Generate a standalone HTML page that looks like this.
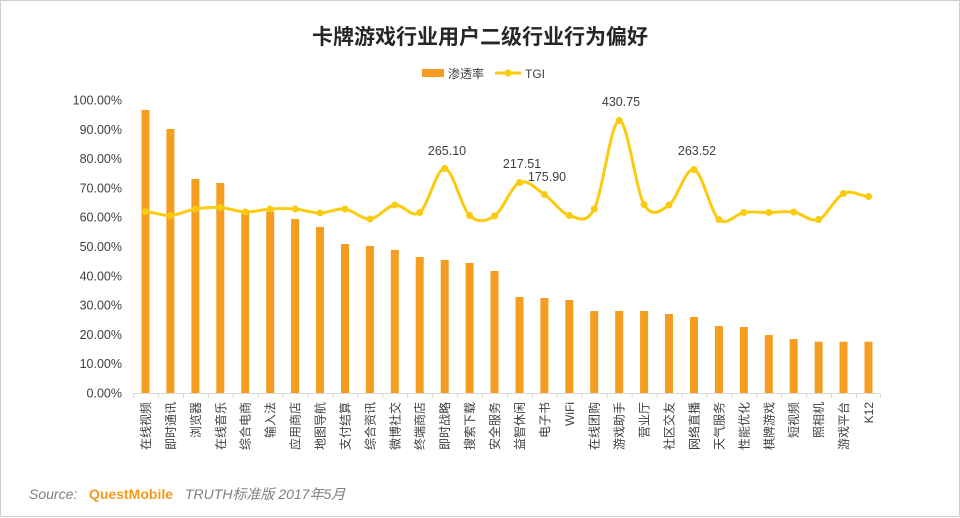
<!DOCTYPE html>
<html>
<head>
<meta charset="utf-8">
<style>
  html, body { margin:0; padding:0; background:#fff; }
  body { width:960px; height:518px; overflow:hidden; }
  svg { display:block; }
  .t { font-family:"Liberation Sans","Noto Sans CJK SC",sans-serif; }
</style>
</head>
<body>
<svg width="960" height="518" viewBox="0 0 960 518" xmlns="http://www.w3.org/2000/svg">
  <rect x="0" y="0" width="960" height="518" fill="#fff"/>
  <rect x="0.5" y="0.5" width="959" height="516" fill="none" stroke="#cfcfcf" stroke-width="1"/>

  <!-- Title -->
  <text class="t" x="480" y="44" text-anchor="middle" font-size="21" font-weight="bold" fill="#262626">卡牌游戏行业用户二级行业行为偏好</text>

  <!-- Legend -->
  <rect x="422" y="69" width="22" height="8" fill="#F59D20"/>
  <text class="t" x="448" y="78" font-size="12" fill="#404040">渗透率</text>
  <line x1="495" y1="73" x2="521" y2="73" stroke="#FACB0F" stroke-width="3"/>
  <circle cx="508" cy="73" r="3.5" fill="#FACB0F"/>
  <text class="t" x="525" y="78" font-size="12" fill="#404040">TGI</text>

  <!-- Y axis labels -->
  <g class="t" font-size="12.5" fill="#404040" text-anchor="end">
    <text x="122" y="397.5">0.00%</text>
    <text x="122" y="368.2">10.00%</text>
    <text x="122" y="338.9">20.00%</text>
    <text x="122" y="309.6">30.00%</text>
    <text x="122" y="280.3">40.00%</text>
    <text x="122" y="251">50.00%</text>
    <text x="122" y="221.7">60.00%</text>
    <text x="122" y="192.4">70.00%</text>
    <text x="122" y="163.1">80.00%</text>
    <text x="122" y="133.8">90.00%</text>
    <text x="122" y="104.5">100.00%</text>
  </g>

  <!-- Bars -->
  <g fill="#F59D20">
    <rect x="141.5" y="110" width="8" height="283.5"/>
    <rect x="166.4" y="129" width="8" height="264.5"/>
    <rect x="191.4" y="179" width="8" height="214.5"/>
    <rect x="216.3" y="183" width="8" height="210.5"/>
    <rect x="241.2" y="210" width="8" height="183.5"/>
    <rect x="266.2" y="211.5" width="8" height="182"/>
    <rect x="291.1" y="219" width="8" height="174.5"/>
    <rect x="316" y="227" width="8" height="166.5"/>
    <rect x="341" y="244" width="8" height="149.5"/>
    <rect x="365.9" y="246" width="8" height="147.5"/>
    <rect x="390.8" y="250" width="8" height="143.5"/>
    <rect x="415.7" y="257" width="8" height="136.5"/>
    <rect x="440.7" y="260" width="8" height="133.5"/>
    <rect x="465.6" y="263" width="8" height="130.5"/>
    <rect x="490.5" y="271" width="8" height="122.5"/>
    <rect x="515.5" y="297" width="8" height="96.5"/>
    <rect x="540.4" y="298" width="8" height="95.5"/>
    <rect x="565.3" y="300" width="8" height="93.5"/>
    <rect x="590.2" y="311" width="8" height="82.5"/>
    <rect x="615.2" y="311" width="8" height="82.5"/>
    <rect x="640.1" y="311" width="8" height="82.5"/>
    <rect x="665" y="314" width="8" height="79.5"/>
    <rect x="690" y="317" width="8" height="76.5"/>
    <rect x="714.9" y="326" width="8" height="67.5"/>
    <rect x="739.8" y="327" width="8" height="66.5"/>
    <rect x="764.8" y="335" width="8" height="58.5"/>
    <rect x="789.7" y="339" width="8" height="54.5"/>
    <rect x="814.6" y="341.7" width="8" height="51.8"/>
    <rect x="839.5" y="341.7" width="8" height="51.8"/>
    <rect x="864.5" y="341.7" width="8" height="51.8"/>
  </g>

  <!-- X axis -->
  <line x1="133" y1="393.5" x2="881" y2="393.5" stroke="#d9d9d9" stroke-width="1"/>
  <g stroke="#d9d9d9" stroke-width="1">
    <line x1="133.5" y1="393.5" x2="133.5" y2="398"/>
    <line x1="158.4" y1="393.5" x2="158.4" y2="398"/>
    <line x1="183.4" y1="393.5" x2="183.4" y2="398"/>
    <line x1="208.3" y1="393.5" x2="208.3" y2="398"/>
    <line x1="233.2" y1="393.5" x2="233.2" y2="398"/>
    <line x1="258.2" y1="393.5" x2="258.2" y2="398"/>
    <line x1="283.1" y1="393.5" x2="283.1" y2="398"/>
    <line x1="308" y1="393.5" x2="308" y2="398"/>
    <line x1="333" y1="393.5" x2="333" y2="398"/>
    <line x1="357.9" y1="393.5" x2="357.9" y2="398"/>
    <line x1="382.8" y1="393.5" x2="382.8" y2="398"/>
    <line x1="407.7" y1="393.5" x2="407.7" y2="398"/>
    <line x1="432.7" y1="393.5" x2="432.7" y2="398"/>
    <line x1="457.6" y1="393.5" x2="457.6" y2="398"/>
    <line x1="482.5" y1="393.5" x2="482.5" y2="398"/>
    <line x1="507.5" y1="393.5" x2="507.5" y2="398"/>
    <line x1="532.4" y1="393.5" x2="532.4" y2="398"/>
    <line x1="557.3" y1="393.5" x2="557.3" y2="398"/>
    <line x1="582.2" y1="393.5" x2="582.2" y2="398"/>
    <line x1="607.2" y1="393.5" x2="607.2" y2="398"/>
    <line x1="632.1" y1="393.5" x2="632.1" y2="398"/>
    <line x1="657" y1="393.5" x2="657" y2="398"/>
    <line x1="682" y1="393.5" x2="682" y2="398"/>
    <line x1="706.9" y1="393.5" x2="706.9" y2="398"/>
    <line x1="731.8" y1="393.5" x2="731.8" y2="398"/>
    <line x1="756.8" y1="393.5" x2="756.8" y2="398"/>
    <line x1="781.7" y1="393.5" x2="781.7" y2="398"/>
    <line x1="806.6" y1="393.5" x2="806.6" y2="398"/>
    <line x1="831.5" y1="393.5" x2="831.5" y2="398"/>
    <line x1="856.5" y1="393.5" x2="856.5" y2="398"/>
    <line x1="880.5" y1="393.5" x2="880.5" y2="398"/>
  </g>

  <!-- X labels (rotated) -->
  <g class="t" font-size="12" fill="#404040" text-anchor="end">
    <text transform="translate(150,402) rotate(-90)">在线视频</text>
    <text transform="translate(175,402) rotate(-90)">即时通讯</text>
    <text transform="translate(200,402) rotate(-90)">浏览器</text>
    <text transform="translate(224.8,402) rotate(-90)">在线音乐</text>
    <text transform="translate(249.7,402) rotate(-90)">综合电商</text>
    <text transform="translate(274.7,402) rotate(-90)">输入法</text>
    <text transform="translate(299.6,402) rotate(-90)">应用商店</text>
    <text transform="translate(324.5,402) rotate(-90)">地图导航</text>
    <text transform="translate(349.5,402) rotate(-90)">支付结算</text>
    <text transform="translate(374.4,402) rotate(-90)">综合资讯</text>
    <text transform="translate(399.3,402) rotate(-90)">微博社交</text>
    <text transform="translate(424.2,402) rotate(-90)">终端商店</text>
    <text transform="translate(449.2,402) rotate(-90)">即时战略</text>
    <text transform="translate(474.1,402) rotate(-90)">搜索下载</text>
    <text transform="translate(499,402) rotate(-90)">安全服务</text>
    <text transform="translate(524,402) rotate(-90)">益智休闲</text>
    <text transform="translate(548.9,402) rotate(-90)">电子书</text>
    <text transform="translate(573.8,402) rotate(-90)">WiFi</text>
    <text transform="translate(598.7,402) rotate(-90)">在线团购</text>
    <text transform="translate(623.7,402) rotate(-90)">游戏助手</text>
    <text transform="translate(648.6,402) rotate(-90)">营业厅</text>
    <text transform="translate(673.5,402) rotate(-90)">社区交友</text>
    <text transform="translate(698.5,402) rotate(-90)">网络直播</text>
    <text transform="translate(723.4,402) rotate(-90)">天气服务</text>
    <text transform="translate(748.3,402) rotate(-90)">性能优化</text>
    <text transform="translate(773.3,402) rotate(-90)">棋牌游戏</text>
    <text transform="translate(798.2,402) rotate(-90)">短视频</text>
    <text transform="translate(823.1,402) rotate(-90)">照相机</text>
    <text transform="translate(848,402) rotate(-90)">游戏平台</text>
    <text transform="translate(873,402) rotate(-90)">K12</text>
  </g>

  <!-- TGI line -->
  <path fill="none" stroke="#FACB0F" stroke-width="3" stroke-linejoin="round" stroke-linecap="round"
    d="M145.5,211.5
       C153.8,212.2 162.1,215.9 170.4,215.5
       C178.7,215.1 187.1,210.3 195.4,209
       C203.7,207.7 212,207 220.3,207.5
       C228.6,208 236.9,211.8 245.2,212
       C253.5,212.3 261.9,209.5 270.2,209
       C278.5,208.5 286.8,208.3 295.1,209
       C303.4,209.7 311.7,213 320,213
       C328.3,213 336.7,208 345,209
       C353.3,210 361.6,219.7 369.9,219
       C378.2,218.3 386.5,206.1 394.8,205
       C403.1,203.9 411.4,218.6 419.7,212.5
       C428,206.4 436.4,168 444.7,168.5
       C453,169 461.3,207.6 469.6,215.5
       C477.9,223.4 486.2,221.5 494.5,216
       C502.8,210.5 511.2,186.1 519.5,182.5
       C527.8,178.9 536.1,189 544.4,194.5
       C552.7,200 561,213.1 569.3,215.5
       C577.6,217.9 585.9,224.8 594.2,209
       C602.5,193.2 610.9,121.3 619.2,120.5
       C627.5,119.8 635.8,190.4 644.1,204.5
       C652.4,218.6 660.7,210.8 669,205
       C677.3,199.2 685.7,167.1 694,169.5
       C702.3,171.9 710.6,212.3 718.9,219.5
       C727.2,226.7 735.5,213.7 743.8,212.5
       C752.1,211.3 760.5,212.6 768.8,212.5
       C777.1,212.4 785.4,210.8 793.7,212
       C802,213.2 810.3,222.6 818.6,219.5
       C826.9,216.4 835.2,197.3 843.5,193.5
       C851.8,189.7 860.2,196 868.5,196.5"/>
  <g fill="#FACB0F">
    <circle cx="145.5" cy="211.5" r="3.5"/>
    <circle cx="170.4" cy="215.5" r="3.5"/>
    <circle cx="195.4" cy="209" r="3.5"/>
    <circle cx="220.3" cy="207.5" r="3.5"/>
    <circle cx="245.2" cy="212" r="3.5"/>
    <circle cx="270.2" cy="209" r="3.5"/>
    <circle cx="295.1" cy="209" r="3.5"/>
    <circle cx="320" cy="213" r="3.5"/>
    <circle cx="345" cy="209" r="3.5"/>
    <circle cx="369.9" cy="219" r="3.5"/>
    <circle cx="394.8" cy="205" r="3.5"/>
    <circle cx="419.7" cy="212.5" r="3.5"/>
    <circle cx="444.7" cy="168.5" r="3.5"/>
    <circle cx="469.6" cy="215.5" r="3.5"/>
    <circle cx="494.5" cy="216" r="3.5"/>
    <circle cx="519.5" cy="182.5" r="3.5"/>
    <circle cx="544.4" cy="194.5" r="3.5"/>
    <circle cx="569.3" cy="215.5" r="3.5"/>
    <circle cx="594.2" cy="209" r="3.5"/>
    <circle cx="619.2" cy="120.5" r="3.5"/>
    <circle cx="644.1" cy="204.5" r="3.5"/>
    <circle cx="669" cy="205" r="3.5"/>
    <circle cx="694" cy="169.5" r="3.5"/>
    <circle cx="718.9" cy="219.5" r="3.5"/>
    <circle cx="743.8" cy="212.5" r="3.5"/>
    <circle cx="768.8" cy="212.5" r="3.5"/>
    <circle cx="793.7" cy="212" r="3.5"/>
    <circle cx="818.6" cy="219.5" r="3.5"/>
    <circle cx="843.5" cy="193.5" r="3.5"/>
    <circle cx="868.5" cy="196.5" r="3.5"/>
  </g>

  <!-- Data labels -->
  <g class="t" font-size="12.5" fill="#404040" text-anchor="middle">
    <text x="447" y="155">265.10</text>
    <text x="522" y="168">217.51</text>
    <text x="547" y="181">175.90</text>
    <text x="621" y="106">430.75</text>
    <text x="697" y="155">263.52</text>
  </g>

  <!-- Source -->
  <text class="t" x="29" y="499" font-size="14" font-style="italic" fill="#808080">Source:</text>
  <text class="t" x="89" y="499" font-size="14" font-weight="bold" fill="#F39A1E">QuestMobile</text>
  <text class="t" x="185" y="499" font-size="14" font-style="italic" fill="#808080">TRUTH标准版 2017年5月</text>
</svg>
</body>
</html>
